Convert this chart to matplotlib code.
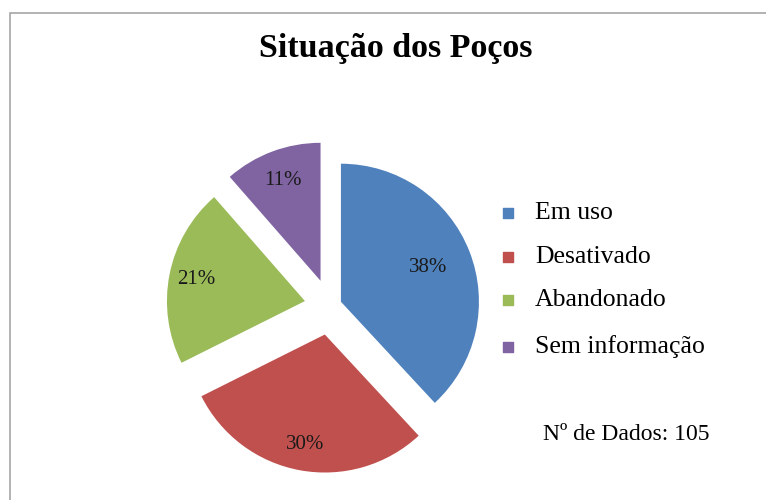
import matplotlib
matplotlib.use("Agg")
import matplotlib.pyplot as plt
import numpy as np
from matplotlib.patches import Rectangle

title = "Situação dos Poços"
categories = ["Em uso", "Desativado", "Abandonado", "Sem informação"]
counts = [40, 31, 22, 12]
colors = ["#4F81BD", "#C0504D", "#9BBB59", "#8064A2"]
explode = [0.085, 0.21, 0.185, 0.195]
note = "Nº de Dados: 105"

W, H = 766, 500
fig = plt.figure(figsize=(W / 100, H / 100), dpi=100)
ax = fig.add_axes([0, 0, 1, 1])

serif = ["Liberation Serif", "DejaVu Serif"]

# border of chart area
fig.patches.append(Rectangle((10 / W, -0.1), 1.2, (H - 13) / H + 0.1,
                             transform=fig.transFigure, fill=False,
                             edgecolor="#a6a6a6", linewidth=1.2))

R = 138
cx, cy = 330, H - 306
wedges, texts, autotexts = ax.pie(
    counts, explode=[e * R for e in explode], colors=colors, startangle=90,
    counterclock=False, radius=R, center=(cx, cy),
    autopct=lambda p: f"{p:.0f}%", pctdistance=0.78,
    textprops=dict(family=serif, fontsize=15, color="#1a1a1a"))

# fine-tune label distances per slice
label_dist = [0.68, 0.81, 0.8, 0.78]
for w, t, d in zip(wedges, autotexts, label_dist):
    ang = np.deg2rad((w.theta1 + w.theta2) / 2)
    x0, y0 = w.center
    t.set_position((x0 + d * R * np.cos(ang), y0 + d * R * np.sin(ang)))

ax.set_xlim(0, W)
ax.set_ylim(0, H)
ax.set_aspect("equal")
ax.set_position([0, 0, 1, 1])
ax.axis("off")

ax.text(396, H - 48, title, ha="center", va="center", family=serif,
        fontsize=24.5, fontweight="bold", color="black")

# legend
leg_y = [213, 257, 300, 347]
for name, col, y in zip(categories, colors, leg_y):
    ax.scatter([508], [H - y], marker="s", s=55, color=col, zorder=5)
    ax.text(535, H - y, name, ha="left", va="center", family=serif,
            fontsize=18.5, color="black")

ax.text(543, H - 435, note, ha="left", va="center", family=serif,
        fontsize=17, color="black")

fig.savefig("out.png", dpi=100)
